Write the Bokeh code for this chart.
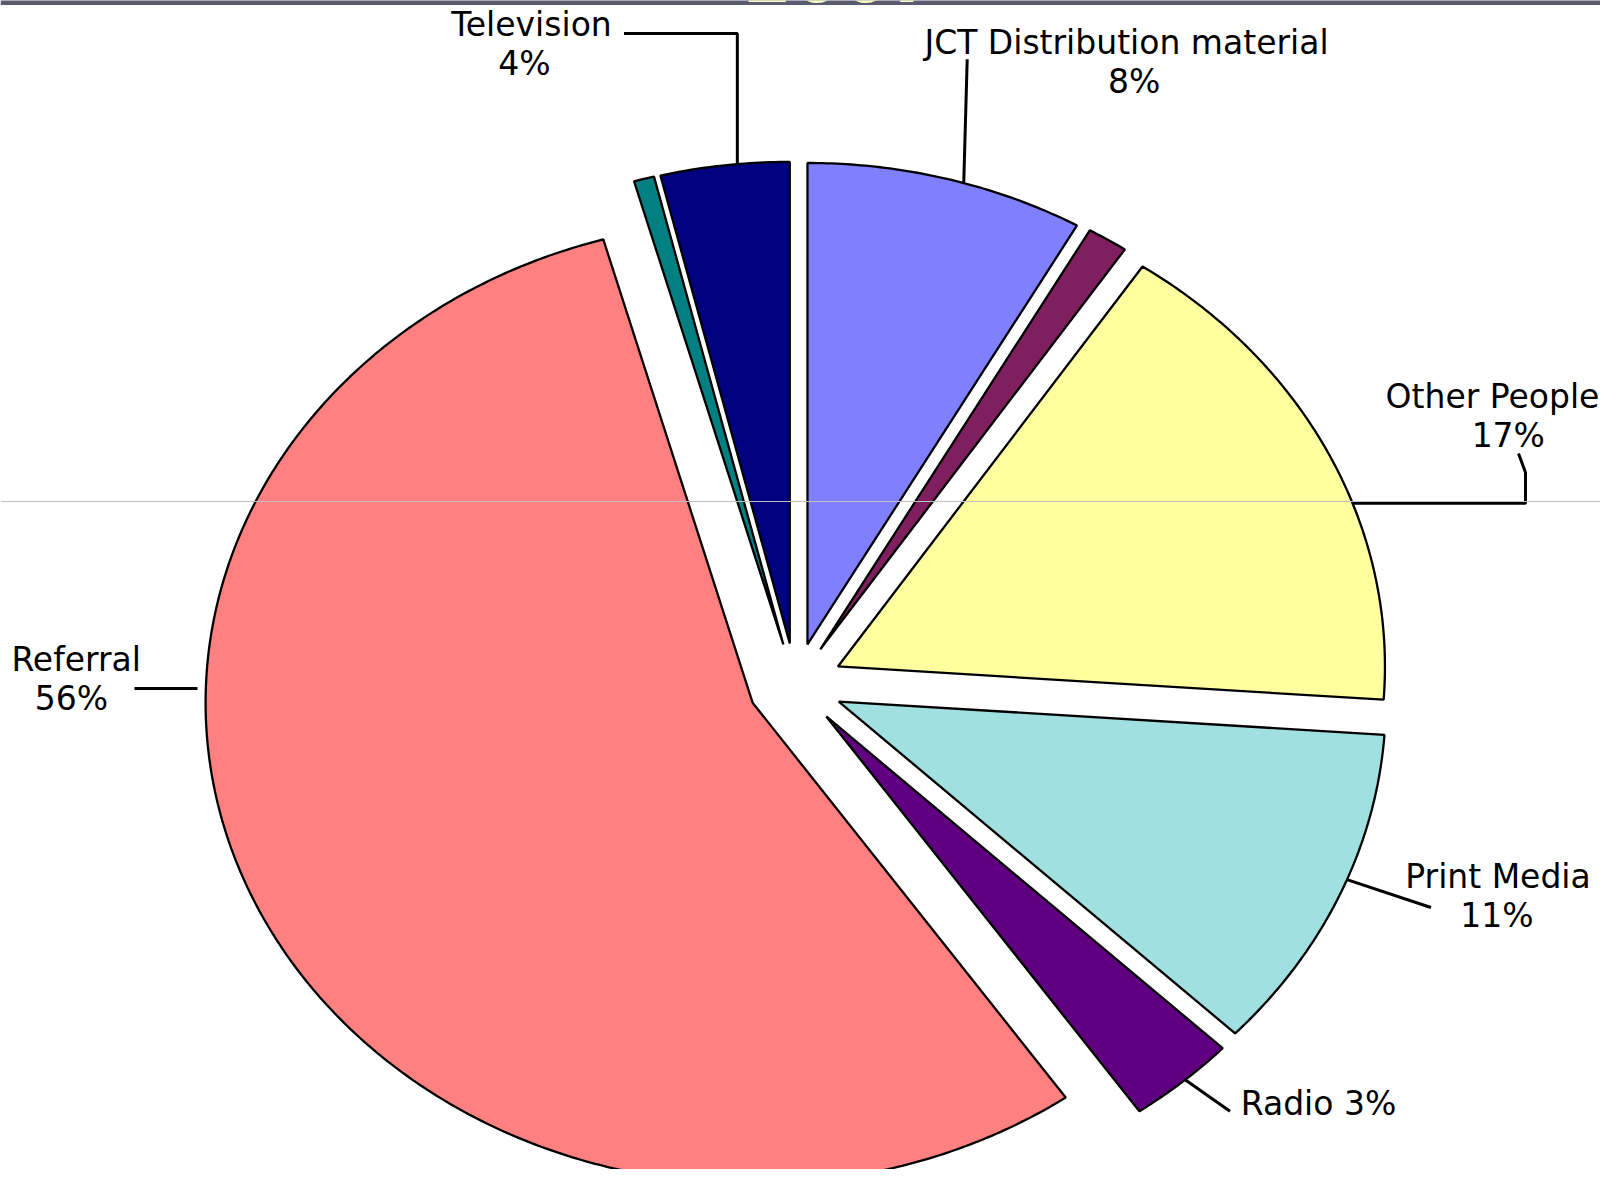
import numpy as np
from bokeh.plotting import figure
from bokeh.models import ColumnDataSource, Range1d, Span
from bokeh.embed import file_html
from bokeh.resources import INLINE
from bokeh.core.properties import value

# ---------------- data (clockwise from 12 o'clock) ----------------
categories = ["JCT Distribution material", "Unlabelled A", "Other People", "Print Media",
              "Radio", "Referral", "Unlabelled B", "Television"]
shares = [8.2, 1.2, 16.7, 11.0, 3.2, 55.3, 0.6, 3.8]
pct_labels = ["8%", "", "17%", "11%", "3%", "56%", "", "4%"]
colors = ["#8080FF", "#7F1F5F", "#FFFFA0", "#A0E0E0", "#600080", "#FF8080", "#008080", "#000080"]
title_text = "2007"

# ---------------- layout constants (reference pixel space) ----------------
CX, CY = 794.9, 684.3     # pie centre
RX, RY = 547.0, 481.5     # horizontal / vertical radius (chart is stretched)
EXPLODE = 0.0866          # explode distance, fraction of radius
FS = 33                   # label font size (px)
BL = 0.36 * FS            # baseline correction
TFS = 70                  # title font size (px)

p = figure(width=1600, height=1169, x_range=Range1d(0, 1600), y_range=Range1d(1169, 0),
           output_backend="svg", toolbar_location=None, min_border=0,
           x_axis_location=None, y_axis_location=None, outline_line_color=None,
           background_fill_color="white", border_fill_color="white")
p.xgrid.visible = False
p.ygrid.visible = False

vals = np.array(shares, dtype=float)
ends = np.cumsum(vals) / vals.sum() * 360.0
starts = np.concatenate([[0.0], ends[:-1]])
mids = (starts + ends) / 2.0

def apex(i):
    m = np.radians(mids[i])
    return CX + EXPLODE * RX * np.sin(m), CY - EXPLODE * RY * np.cos(m)

def arc_point(i, theta_deg):
    ax, ay = apex(i)
    t = np.radians(theta_deg)
    return ax + RX * np.sin(t), ay - RY * np.cos(t)

xs, ys = [], []
for i in range(len(vals)):
    ax, ay = apex(i)
    n = max(3, int((ends[i] - starts[i]) * 2))
    th = np.radians(np.linspace(starts[i], ends[i], n))
    xs.append(np.concatenate([[ax], ax + RX * np.sin(th)]).tolist())
    ys.append(np.concatenate([[ay], ay - RY * np.cos(th)]).tolist())

src = ColumnDataSource(dict(xs=xs, ys=ys, color=colors, name=categories))
p.patches("xs", "ys", source=src, fill_color="color", line_color="black", line_width=2.3)

# ---------------- top band with clipped title ----------------
p.quad(left=0, right=1600, top=-10, bottom=4.5, fill_color="#5A5A70", line_color=None)
p.text(x=[845], y=[4.5 - 0.36 * TFS - 3.5], text=[title_text], text_color="#FFFFC8", text_align="center",
       text_baseline="alphabetic", text_font=value("DejaVu Sans"), text_font_style="bold italic",
       text_font_size=f"{TFS}px")

# ---------------- leader lines ----------------
idx = {c: i for i, c in enumerate(categories)}
tv = arc_point(idx["Television"], 354.5)
jct = arc_point(idx["JCT Distribution material"], 16.6)
oth = arc_point(idx["Other People"], 70.2)
prn = arc_point(idx["Print Media"], 111.7)
rad = arc_point(idx["Radio"], 139.0)

lx = [[623.5, tv[0], tv[0]],
      [966.7, jct[0]],
      [1518, 1525, 1525, oth[0]],
      [1430.5, prn[0]],
      [1229.5, rad[0]],
      [134, 197]]
ly = [[33, 33, tv[1]],
      [58.7, jct[1]],
      [453, 472, oth[1], oth[1]],
      [907, prn[1]],
      [1110.8, rad[1]],
      [688, 688]]
p.multi_line(xs=lx, ys=ly, line_color="black", line_width=3)

# ---------------- labels ----------------
label_pos = {  # (x name, baseline name, x pct, baseline pct)
    "Television": (531, 36, 524, 75),
    "JCT Distribution material": (1126, 54, 1133.6, 93),
    "Other People": (1492, 408, 1507.8, 447),
    "Print Media": (1497.5, 888, 1496.5, 927),
    "Referral": (75.7, 671, 71, 710),
}
tx, ty, tt = [], [], []
for c, (x1, y1, x2, y2) in label_pos.items():
    tx += [x1, x2]
    ty += [y1 - BL, y2 - BL]
    tt += [c, pct_labels[idx[c]]]
tx.append(1318)
ty.append(1115 - BL)
tt.append("Radio " + pct_labels[idx["Radio"]])

p.text(x=tx, y=ty, text=tt, text_color="black", text_align="center", text_baseline="alphabetic",
       text_font=value("DejaVu Sans"), text_font_size=f"{FS}px")

p.add_layout(Span(location=501, dimension="width", line_color="#C0C0C0", line_width=1))

open("out.html", "w").write(file_html(p, INLINE))
